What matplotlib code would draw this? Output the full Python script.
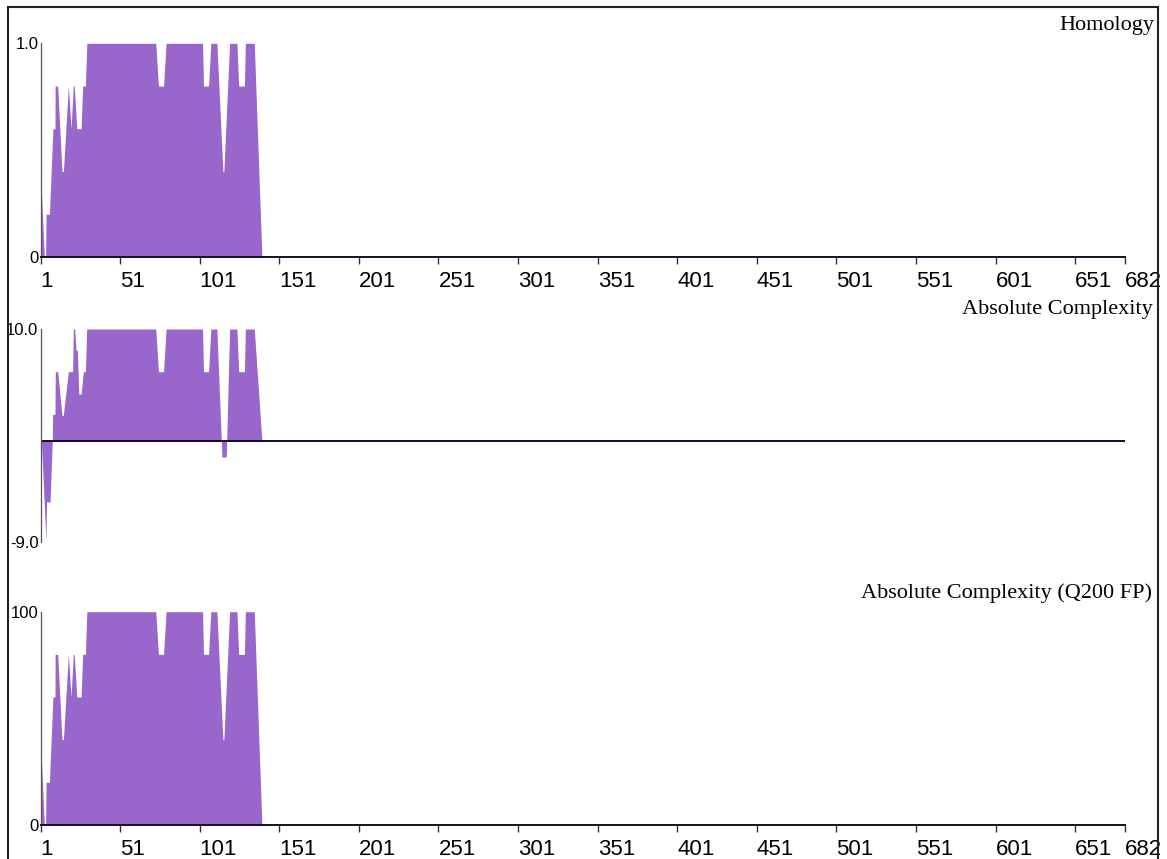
import matplotlib.pyplot as plt
from matplotlib.patches import Rectangle

# residue axis
seq_len = 682
x_ticks = [1, 51, 101, 151, 201, 251, 301, 351, 401, 451, 501, 551, 601, 651, 682]

# Homology profile (vertices)
hom_x = [1, 3.4, 4.2, 4.5, 6.6, 8.8, 10.1, 10.2, 11.8, 14.5, 15.4, 18.5, 20.2, 21.6, 22.2,
         23.8, 26.5, 27.5, 29.2, 30.1, 73.4, 75.1, 78.3, 79.9, 102.8, 103.4, 106.6, 108.0,
         111.8, 115.6, 116.2, 119.8, 124.4, 125.5, 129.1, 129.7, 135.3, 140.1]
hom_y = [0.4, 0, 0, 0.2, 0.2, 0.6, 0.6, 0.8, 0.8, 0.4, 0.4, 0.8, 0.6, 0.8, 0.8,
         0.6, 0.6, 0.8, 0.8, 1.0, 1.0, 0.8, 0.8, 1.0, 1.0, 0.8, 0.8, 1.0,
         1.0, 0.4, 0.4, 1.0, 1.0, 0.8, 0.8, 1.0, 1.0, 0]

# Absolute complexity
cplx_x = [1, 1.6, 4.4, 4.8, 7.0, 8.4, 8.65, 10.1, 10.3, 11.8, 14.5, 15.3, 18.5, 21.2,
          21.6, 22.5, 23.3, 24.2, 25.0, 26.5, 27.9, 29.2, 30.0, 73.4, 75.1, 78.3, 79.9,
          102.8, 103.4, 106.6, 108.0, 111.8, 115.0, 117.7, 119.8, 124.4, 125.5, 129.1,
          129.7, 135.3, 140.1]
cplx_y = [2.4, 0, -8.9, -5.4, -5.4, 0, 2.4, 2.4, 6.2, 6.2, 2.3, 2.3, 6.2, 6.2,
          10, 10, 8.1, 8.1, 4.2, 4.2, 6.2, 6.2, 10, 10, 6.2, 6.2, 10,
          10, 6.2, 6.2, 10, 10, -1.4, -1.4, 10, 10, 6.2, 6.2,
          10, 10, 0]

# Absolute complexity (Q200 FP)
qfp_x = [1, 3.4, 4.2, 4.5, 6.6, 8.8, 10.1, 10.2, 11.8, 14.5, 15.4, 18.5, 20.2, 21.6, 22.2,
         23.8, 26.5, 27.5, 29.2, 30.1, 73.4, 75.1, 78.3, 79.9, 102.8, 103.4, 106.6, 108.0,
         111.8, 115.6, 116.2, 119.8, 124.4, 125.5, 129.1, 129.7, 135.3, 140.1]
qfp_y = [40, 0, 0, 20, 20, 60, 60, 80, 80, 40, 40, 80, 60, 80, 80,
         60, 60, 80, 80, 100, 100, 80, 80, 100, 100, 80, 80, 100,
         100, 40, 40, 100, 100, 80, 80, 100, 100, 0]

fill_col = '#9966cc'
num_font = ['Liberation Sans', 'DejaVu Sans']
title_font = ['Liberation Serif', 'DejaVu Serif']

W, H = 1167, 859
fig = plt.figure(figsize=(W / 100, H / 100), dpi=100)


def px_axes(top, bottom):
    left, right = 40.5, 1124.5
    return fig.add_axes([left / W, 1 - bottom / H, (right - left) / W, (bottom - top) / H])


def style(ax, yticks, ylabels, show_x=True):
    ax.set_xlim(1, seq_len)
    for s in ['top', 'right']:
        ax.spines[s].set_visible(False)
    ax.spines['left'].set_color('#555555')
    ax.spines['left'].set_linewidth(0.9)
    ax.set_yticks(yticks)
    ax.set_yticklabels(ylabels, fontfamily=num_font, fontsize=12)
    ax.tick_params(axis='y', length=0, pad=1.5)
    if show_x:
        ax.spines['bottom'].set_color('#111122')
        ax.spines['bottom'].set_linewidth(1.4)
        ax.set_xticks(x_ticks)
        ax.set_xticklabels([str(t) for t in x_ticks], fontfamily=num_font, fontsize=16)
        for lab in ax.get_xticklabels():
            lab.set_ha('left')
        ax.tick_params(axis='x', length=5, width=1, color='#333333', pad=5)
    else:
        ax.spines['bottom'].set_visible(False)
        ax.set_xticks([])


ax1 = px_axes(43.3, 257)
ax1.fill_between(hom_x, hom_y, 0, color=fill_col, lw=0)
ax1.set_ylim(0, 1)
style(ax1, [0, 1], ['0', '1.0'])

ax2 = px_axes(329, 542.4)
ax2.fill_between(cplx_x, cplx_y, 0, color=fill_col, lw=0)
ax2.axhline(0, color='#110a22', lw=1.4)
ax2.set_ylim(-9, 10)
style(ax2, [-9, 10], ['-9.0', '10.0'], show_x=False)

ax3 = px_axes(611.7, 825)
ax3.fill_between(qfp_x, qfp_y, 0, color=fill_col, lw=0)
ax3.set_ylim(0, 100)
style(ax3, [0, 100], ['0', '100'])

fig.text(1154 / W, 1 - 30 / H, 'Homology', ha='right', va='baseline',
         fontfamily=title_font, fontsize=16)
fig.text(1153 / W, 1 - 314 / H, 'Absolute Complexity', ha='right', va='baseline',
         fontfamily=title_font, fontsize=16)
fig.text(1152 / W, 1 - 598 / H, 'Absolute Complexity (Q200 FP)', ha='right', va='baseline',
         fontfamily=title_font, fontsize=16)

# outer frame
fig.patches.append(Rectangle((8 / W, -0.01), (1158 - 8) / W, 1.01 - 6.7 / H,
                             transform=fig.transFigure, fill=False,
                             edgecolor='#222222', lw=1.5))

fig.savefig('out.png', dpi=100)
